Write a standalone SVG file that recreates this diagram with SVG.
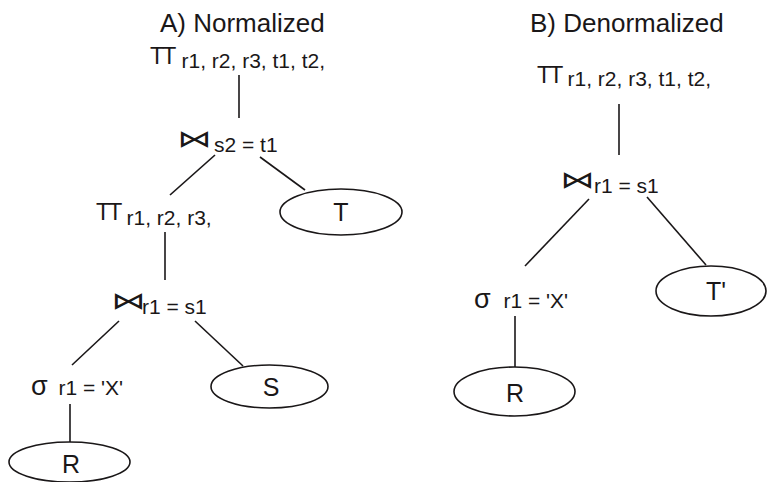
<svg xmlns="http://www.w3.org/2000/svg" width="767" height="482" viewBox="0 0 767 482">
<style>
text{font-family:"Liberation Sans",Arial,sans-serif;fill:#1a1718}
.title{font-size:26px}
.pi{font-size:23px;letter-spacing:-1.8px}
.sub{font-size:21px}
.sig{font-size:27px}
.bow{font-family:"DejaVu Sans",sans-serif;font-size:20px}
.lbl{font-size:25px;text-anchor:middle}
.rel{fill:#fff;stroke:#1a1718;stroke-width:1.6}
#connectors line{stroke:#1a1718;stroke-width:1.6}
</style>
<rect width="767" height="482" fill="#fff"/>
<g id="titles">
<text class="title" x="160" y="32">A) Normalized</text>
<text class="title" x="530" y="32">B) Denormalized</text>
</g>
<g id="connectors">
<line x1="239" y1="75" x2="239" y2="118"/>
<line x1="215" y1="155" x2="170" y2="195"/>
<line x1="260" y1="157" x2="305" y2="190"/>
<line x1="165" y1="232" x2="165" y2="280"/>
<line x1="119" y1="321" x2="72" y2="365"/>
<line x1="195" y1="321" x2="243" y2="366"/>
<line x1="70" y1="404" x2="70" y2="442"/>
<line x1="619" y1="104" x2="619" y2="155"/>
<line x1="589" y1="199" x2="525" y2="266"/>
<line x1="647" y1="197" x2="706" y2="265"/>
<line x1="515" y1="316" x2="515" y2="367"/>
</g>
<g id="a-proj-top"><text class="pi" x="150" y="64">TT</text><text class="sub" x="181.5" y="68">r1, r2, r3, t1, t2,</text></g>
<g id="a-join-top"><text class="bow" transform="translate(177,147) scale(1.7,1.2)">⋈</text><text class="sub" x="214" y="152">s2 = t1</text></g>
<g id="a-T"><ellipse class="rel" cx="341" cy="212" rx="61" ry="23"/><text class="lbl" x="341" y="221">T</text></g>
<g id="a-proj-mid"><text class="pi" x="96" y="220">TT</text><text class="sub" x="126.5" y="225">r1, r2, r3,</text></g>
<g id="a-join-mid"><text class="bow" transform="translate(111,309) scale(1.7,1.2)">⋈</text><text class="sub" x="142" y="314">r1 = s1</text></g>
<g id="a-S"><ellipse class="rel" cx="269.5" cy="386.5" rx="58.5" ry="21.5"/><text class="lbl" x="271" y="396">S</text></g>
<g id="a-sel"><text class="sig" x="31" y="395">σ</text><text class="sub" x="58.5" y="395">r1 = 'X'</text></g>
<g id="a-R"><ellipse class="rel" cx="69.5" cy="462" rx="60.5" ry="20"/><text class="lbl" x="71" y="473">R</text></g>
<g id="b-proj"><text class="pi" x="537" y="83">TT</text><text class="sub" x="567.5" y="86">r1, r2, r3, t1, t2,</text></g>
<g id="b-join"><text class="bow" transform="translate(560,188) scale(1.7,1.2)">⋈</text><text class="sub" x="594" y="193">r1 = s1</text></g>
<g id="b-sel"><text class="sig" x="474" y="308">σ</text><text class="sub" x="503.5" y="308">r1 = 'X'</text></g>
<g id="b-R"><ellipse class="rel" cx="514.5" cy="391.5" rx="60.5" ry="24.5"/><text class="lbl" x="515" y="402">R</text></g>
<g id="b-T"><ellipse class="rel" cx="711" cy="291" rx="55" ry="25"/><text class="lbl" x="716" y="300">T'</text></g>
</svg>
